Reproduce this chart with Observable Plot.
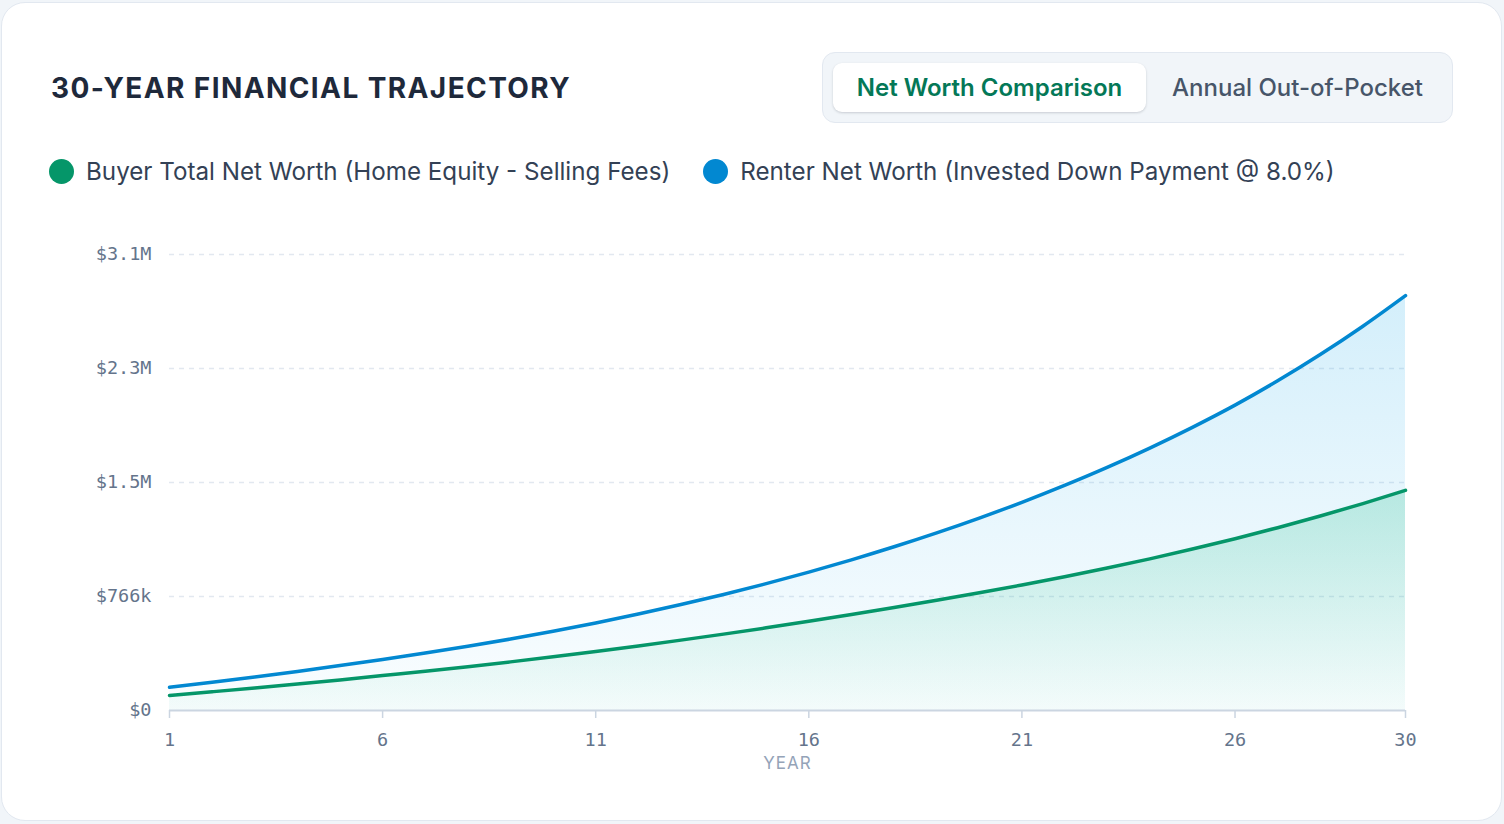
<!DOCTYPE html>
<html>
<head>
<meta charset="utf-8">
<script src="https://cdn.jsdelivr.net/npm/d3@7"></script>
<script src="https://cdn.jsdelivr.net/npm/@observablehq/plot@0.6"></script>
<style>
  html, body { margin: 0; padding: 0; background: #f1f5f9; }
  body { width: 1504px; height: 824px; position: relative; overflow: hidden; font-family: Inter, "Noto Sans", sans-serif; }
  .card { position: absolute; left: 1px; top: 2px; width: 1499px; height: 817px; background: #fff; border: 1.5px solid #e2e8f0; border-radius: 24px; }
  .title { position: absolute; left: 51px; top: 71px; font-size: 28px; font-weight: 700; letter-spacing: 1.4px; color: #1e293b; }
  .toggle { position: absolute; left: 822px; top: 52px; width: 631px; height: 71px; background: #f1f5f9; border: 1.5px solid #e2e8f0; border-radius: 13px; box-sizing: border-box; }
  .btn { position: absolute; top: 10px; height: 49px; line-height: 49px; font-size: 24px; text-align: center; }
  .btn.active { left: 10px; width: 313px; background: #fff; border-radius: 9px; color: #047857; font-weight: 600; box-shadow: 0 1px 3px rgba(15,23,42,0.12), 0 1px 2px rgba(15,23,42,0.06); }
  .btn.inactive { left: 336px; width: 277px; color: #475569; font-weight: 500; }
  .legend { position: absolute; left: 49px; top: 157px; display: flex; align-items: center; font-size: 24.2px; color: #334155; }
  .legend .item { display: flex; align-items: center; margin-right: 33px; }
  .legend .dot { width: 25px; height: 25px; border-radius: 50%; margin-right: 12px; }
  #chart { position: absolute; left: 0; top: 210px; }
  #chart g[aria-label="x-axis label"] text { font-family: Inter, sans-serif; font-size: 17px; fill: #94a3b8; letter-spacing: 1px; }
</style>
</head>
<body>
<div class="card"></div>
<div class="title">30-YEAR FINANCIAL TRAJECTORY</div>
<div class="toggle">
  <div class="btn active">Net Worth Comparison</div>
  <div class="btn inactive">Annual Out-of-Pocket</div>
</div>
<div class="legend">
  <div class="item"><div class="dot" style="background:#059669"></div>Buyer Total Net Worth (Home Equity - Selling Fees)</div>
  <div class="item"><div class="dot" style="background:#0288d1"></div>Renter Net Worth (Invested Down Payment @ 8.0%)</div>
</div>
<div id="chart"></div>
<script>
const years = d3.range(1, 31);
const buyerNetWorth = [
  101000, 125900, 151400, 177700, 205400, 234900, 264300, 294700, 326700, 360700,
  396700, 434100, 472800, 513200, 555400, 599600, 645000, 691800, 740500, 791000,
  843300, 898600, 957000, 1019000, 1084700, 1154400, 1228300, 1306900, 1390500, 1479500
];
const renterNetWorth = [
  156000, 189600, 225200, 262400, 301900, 342800, 385700, 431400, 480100, 532200,
  588200, 648100, 712000, 779800, 852400, 929900, 1012400, 1100000, 1193400, 1292800,
  1399100, 1512600, 1633600, 1763500, 1902800, 2052000, 2215300, 2391600, 2582000, 2787500
];
const yTicks = [0, 766000, 1532000, 2298000, 3064000];
const yTickLabels = ["$0", "$766k", "$1.5M", "$2.3M", "$3.1M"];
const xTicks = [1, 6, 11, 16, 21, 26, 30];

const data = years.map((y, i) => ({year: y, buyer: buyerNetWorth[i], renter: renterNetWorth[i]}));

const plot = Plot.plot({
  width: 1504,
  height: 580,
  marginLeft: 169,
  marginRight: 99,
  marginTop: 44,
  marginBottom: 80,
  style: { fontFamily: "'DejaVu Sans Mono', monospace", fontSize: "18.5px", color: "#64748b", background: "transparent", overflow: "visible" },
  x: { domain: [1, 30] },
  y: { domain: [0, yTicks[yTicks.length - 1]] },
  marks: [
    Plot.gridY(yTicks.slice(1), { stroke: "#e2e8f0", strokeOpacity: 1, strokeDasharray: "5,5", strokeWidth: 1.5 }),
    Plot.areaY(data, { x: "year", y: "renter", fill: "url(#renterGrad)", curve: "monotone-x" }),
    Plot.areaY(data, { x: "year", y: "buyer", fill: "url(#buyerGrad)", curve: "monotone-x" }),
    Plot.ruleY([0], { stroke: "#cbd5e1", strokeWidth: 2 }),
    Plot.lineY(data, { x: "year", y: "renter", stroke: "#0288d1", strokeWidth: 3.5, curve: "monotone-x" }),
    Plot.lineY(data, { x: "year", y: "buyer", stroke: "#059669", strokeWidth: 3.5, curve: "monotone-x" }),
    Plot.axisY({ ticks: yTicks, tickSize: 0, tickPadding: 18, tickFormat: (d) => yTickLabels[yTicks.indexOf(d)], label: null }),
    Plot.axisX({ ticks: xTicks, tickSize: 8, tickPadding: 14, stroke: "#cbd5e1", strokeOpacity: 1, strokeWidth: 1.5, tickFormat: d => String(d), label: "YEAR", labelAnchor: "center", labelArrow: "none", labelOffset: 58 })
  ]
});

const svg = d3.select(plot);
const defs = svg.insert("defs", ":first-child");
const g1 = defs.append("linearGradient").attr("id", "renterGrad").attr("x1", 0).attr("y1", 0).attr("x2", 0).attr("y2", 1);
g1.append("stop").attr("offset", "0%").attr("stop-color", "#0ea5e9").attr("stop-opacity", 0.18);
g1.append("stop").attr("offset", "100%").attr("stop-color", "#0ea5e9").attr("stop-opacity", 0.02);
const g2 = defs.append("linearGradient").attr("id", "buyerGrad").attr("x1", 0).attr("y1", 0).attr("x2", 0).attr("y2", 1);
g2.append("stop").attr("offset", "0%").attr("stop-color", "#10b981").attr("stop-opacity", 0.22);
g2.append("stop").attr("offset", "100%").attr("stop-color", "#10b981").attr("stop-opacity", 0.03);

document.getElementById("chart").appendChild(plot);
</script>
</body>
</html>
